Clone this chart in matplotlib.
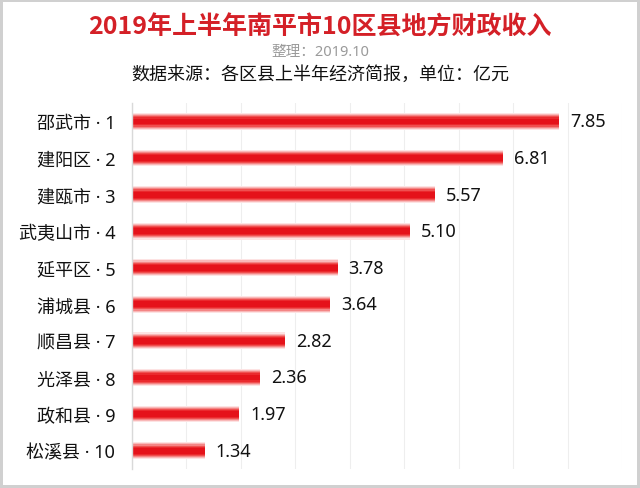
import matplotlib
matplotlib.use("Agg")
import matplotlib.pyplot as plt
import numpy as np

plt.rcParams['font.family'] = ['Noto Sans', 'Noto Sans CJK SC', 'DejaVu Sans']

names = ["邵武市", "建阳区", "建瓯市", "武夷山市", "延平区",
         "浦城县", "顺昌县", "光泽县", "政和县", "松溪县"]
values = [7.85, 6.81, 5.57, 5.10, 3.78, 3.64, 2.82, 2.36, 1.97, 1.34]
labels = [f"{n} · {i+1}" for i, n in enumerate(names)]

fig = plt.figure(figsize=(6.4, 4.89), dpi=100)
fig.patch.set_edgecolor("#d0d0d0")
fig.patch.set_linewidth(3)
ax = fig.add_axes([0.206, 0.039, 0.766, 0.748])

y = np.arange(len(values))
# soft-edged bars: stack narrower, deeper layers on top
heights = [0.46, 0.40, 0.34, 0.28, 0.22, 0.16]
colors = ["#fde3e3", "#f9b8b8", "#f48585", "#ef5050", "#ea2a2e", "#e5121a"]
for h, c in zip(heights, colors):
    ax.barh(y, values, height=h, color=c, edgecolor="none", zorder=2)

for yi, v in zip(y, values):
    ax.text(v + 0.2, yi, f"{v:.2f}", va="center", ha="left", fontsize=13, color="#111111")

ax.set_xlim(0, 9)
ax.set_ylim(9.5, -0.5)
ax.set_yticks(y)
ax.set_yticklabels(labels, fontsize=13, color="#111111")
ax.set_xticks(np.arange(0, 10, 1))
ax.tick_params(axis="x", bottom=False, labelbottom=False)
ax.tick_params(axis="y", length=0, pad=12)
ax.grid(axis="x", color="#eeeeee", linewidth=0.8, zorder=0)
for s in ["top", "right", "bottom"]:
    ax.spines[s].set_visible(False)
ax.spines["left"].set_color("#d9d9d9")
ax.spines["left"].set_linewidth(1.0)

fig.text(0.5, 0.943, "2019年上半年南平市10区县地方财政收入", ha="center", va="center",
         fontsize=18, fontweight="bold", color="#d42027", family=["Noto Sans CJK SC"])
fig.text(0.5, 0.892, "整理：2019.10", ha="center", va="center", fontsize=10.5, color="#9a9a9a")
fig.text(0.5, 0.847, "数据来源：各区县上半年经济简报，单位：亿元", ha="center", va="center",
         fontsize=13, color="#111111")

fig.savefig("out.png", dpi=100, edgecolor=fig.get_edgecolor())
